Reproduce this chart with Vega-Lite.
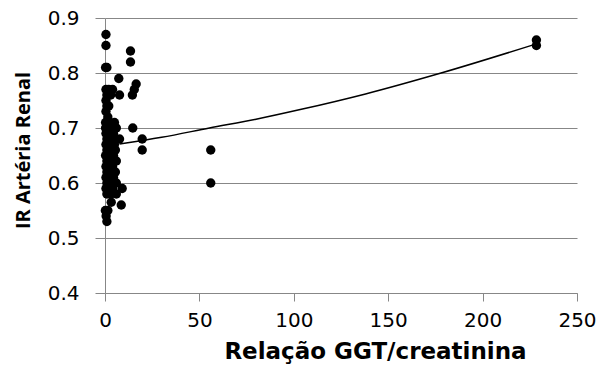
{
  "$schema": "https://vega.github.io/schema/vega-lite/v6.json",
  "width": 472,
  "height": 275,
  "autosize": {"type": "none"},
  "padding": {"left": 105, "top": 18, "right": 21, "bottom": 78},
  "background": "white",
  "config": {
    "view": {"stroke": null},
    "font": "DejaVu Sans"
  },
  "datasets": {
    "pts": [
      {"ratio": 0.5, "ir": 0.87}, {"ratio": 0.5, "ir": 0.85}, {"ratio": 1, "ir": 0.81}, {"ratio": 0.3, "ir": 0.81},
      {"ratio": 13.5, "ir": 0.84}, {"ratio": 13.5, "ir": 0.82}, {"ratio": 7.3, "ir": 0.79}, {"ratio": 16.5, "ir": 0.78},
      {"ratio": 15.5, "ir": 0.77}, {"ratio": 14.5, "ir": 0.76}, {"ratio": 0.5, "ir": 0.77}, {"ratio": 2, "ir": 0.77},
      {"ratio": 4, "ir": 0.77}, {"ratio": 1, "ir": 0.76}, {"ratio": 7.7, "ir": 0.76}, {"ratio": 3, "ir": 0.76},
      {"ratio": 0.5, "ir": 0.75}, {"ratio": 2, "ir": 0.74}, {"ratio": 1, "ir": 0.74}, {"ratio": 0.5, "ir": 0.73},
      {"ratio": 1.5, "ir": 0.72}, {"ratio": 0.3, "ir": 0.71}, {"ratio": 1, "ir": 0.70}, {"ratio": 0.3, "ir": 0.70},
      {"ratio": 3, "ir": 0.70}, {"ratio": 6, "ir": 0.70}, {"ratio": 14.7, "ir": 0.70}, {"ratio": 4.5, "ir": 0.69},
      {"ratio": 2, "ir": 0.69}, {"ratio": 0.5, "ir": 0.69}, {"ratio": 19.7, "ir": 0.68}, {"ratio": 7.7, "ir": 0.68},
      {"ratio": 1, "ir": 0.68}, {"ratio": 3.5, "ir": 0.68}, {"ratio": 0.5, "ir": 0.67}, {"ratio": 2.5, "ir": 0.67},
      {"ratio": 5, "ir": 0.67}, {"ratio": 19.7, "ir": 0.66}, {"ratio": 56, "ir": 0.66}, {"ratio": 1, "ir": 0.66},
      {"ratio": 3, "ir": 0.66}, {"ratio": 0.3, "ir": 0.65}, {"ratio": 2, "ir": 0.65}, {"ratio": 4.5, "ir": 0.65},
      {"ratio": 6, "ir": 0.64}, {"ratio": 1, "ir": 0.64}, {"ratio": 3, "ir": 0.64}, {"ratio": 0.5, "ir": 0.63},
      {"ratio": 2, "ir": 0.63}, {"ratio": 4, "ir": 0.63}, {"ratio": 1, "ir": 0.62}, {"ratio": 3, "ir": 0.62},
      {"ratio": 5.5, "ir": 0.62}, {"ratio": 0.5, "ir": 0.61}, {"ratio": 2.5, "ir": 0.61}, {"ratio": 4.5, "ir": 0.61},
      {"ratio": 1, "ir": 0.60}, {"ratio": 3, "ir": 0.60}, {"ratio": 6, "ir": 0.60}, {"ratio": 56, "ir": 0.60},
      {"ratio": 0.5, "ir": 0.59}, {"ratio": 2, "ir": 0.59}, {"ratio": 4, "ir": 0.59}, {"ratio": 9.1, "ir": 0.59},
      {"ratio": 1, "ir": 0.58}, {"ratio": 3, "ir": 0.58}, {"ratio": 6, "ir": 0.58}, {"ratio": 8.6, "ir": 0.56},
      {"ratio": 3.3, "ir": 0.565}, {"ratio": 1.5, "ir": 0.55}, {"ratio": 0.2, "ir": 0.55}, {"ratio": 0.6, "ir": 0.54},
      {"ratio": 1, "ir": 0.53}, {"ratio": 228.5, "ir": 0.86}, {"ratio": 228.5, "ir": 0.85},
      {"ratio": 5.5, "ir": 0.66}, {"ratio": 5, "ir": 0.64}, {"ratio": 4, "ir": 0.60}, {"ratio": 5.5, "ir": 0.68},
      {"ratio": 5, "ir": 0.71}, {"ratio": 4, "ir": 0.70}, {"ratio": 2, "ir": 0.71}, {"ratio": 4, "ir": 0.67}
    ],
    "trend": [
      {"ratio": 7.7, "ir": 0.671}, {"ratio": 30, "ir": 0.683}, {"ratio": 55.3, "ir": 0.700},
      {"ratio": 80, "ir": 0.716}, {"ratio": 104, "ir": 0.734}, {"ratio": 138, "ir": 0.762},
      {"ratio": 178, "ir": 0.800}, {"ratio": 228.5, "ir": 0.853}
    ]
  },
  "encoding": {
    "x": {
      "field": "ratio", "type": "quantitative",
      "scale": {"domain": [0, 250], "nice": false, "zero": false},
      "axis": {
        "title": "Relação GGT/creatinina",
        "values": [0, 50, 100, 150, 200, 250],
        "grid": false,
        "domainColor": "#878787", "tickColor": "#878787", "tickSize": 8,
        "labelFontSize": 20, "labelColor": "#000000", "labelPadding": 9, "labelFlush": false,
        "titleFontSize": 23, "titleFontWeight": "bold", "titleColor": "#000000",
        "titleX": 270, "titleAlign": "center", "titlePadding": 10
      }
    },
    "y": {
      "field": "ir", "type": "quantitative",
      "scale": {"domain": [0.4, 0.9], "nice": false, "zero": false},
      "axis": {
        "title": "IR Artéria Renal",
        "values": [0.4, 0.5, 0.6, 0.7, 0.8, 0.9],
        "format": ".1f",
        "grid": true, "gridColor": "#878787", "gridWidth": 1,
        "domainColor": "#878787", "tickColor": "#878787", "tickSize": 10,
        "labelFontSize": 20, "labelColor": "#000000", "labelPadding": 16,
        "titleFont": "Open Sans", "titleFontSize": 20, "titleFontWeight": "bold", "titleColor": "#000000",
        "titleX": -82, "titleY": 132, "titleBaseline": "middle", "titleAlign": "center", "titleAngle": -90
      }
    }
  },
  "layer": [
    {
      "data": {"name": "pts"},
      "mark": {"type": "circle", "size": 88, "color": "#000000", "opacity": 1}
    },
    {
      "data": {"name": "trend"},
      "mark": {"type": "line", "color": "#000000", "strokeWidth": 1.5, "interpolate": "monotone"}
    }
  ]
}
